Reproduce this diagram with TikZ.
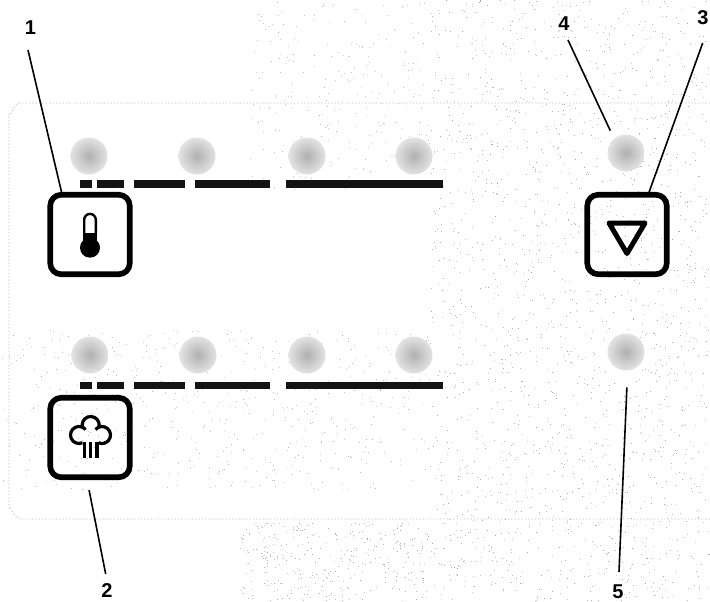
\documentclass[tikz,border=0pt]{standalone}
\usepackage{fontspec}
\setmainfont{Liberation Sans}
\tikzset{
  btn/.style={draw=black,line width=5.6pt,rounded corners=11pt,minimum width=79.5pt,minimum height=79.5pt,inner sep=0pt,outer sep=0pt,fill=none},
  led/.style={circle,minimum size=37pt,inner sep=0pt,outer sep=0pt,shading=radial,inner color=gray!62,outer color=gray!22},
  lab/.style={font=\fontsize{20}{20}\selectfont\bfseries,inner sep=0pt},
  leader/.style={draw=black,line width=1.6pt},
  bar/.style={draw=black!92,line width=7.6pt},
  panel/.style={draw=gray!55,line width=.7pt,dash pattern=on 1.2pt off 2.2pt}
}
\begin{document}
\begin{tikzpicture}[x=1pt,y=-1pt]
\useasboundingbox (0,0) rectangle (710,602);
\fill[white] (0,0) rectangle (710,602);
% scan speckle
\pgfmathsetseed{4711}
\foreach \i in {1,...,1900}{
  \pgfmathsetmacro\xx{430+279*rnd}\pgfmathsetmacro\yy{601*rnd}
  \pgfmathsetmacro\gg{35+35*rnd}
  \fill[gray!\gg] (\xx,\yy) rectangle ++(1,1);
}
\foreach \i in {1,...,350}{
  \pgfmathsetmacro\xx{240+190*rnd}\pgfmathsetmacro\yy{522+79*rnd}
  \pgfmathsetmacro\gg{35+35*rnd}
  \fill[gray!\gg] (\xx,\yy) rectangle ++(1,1);
}
\foreach \i in {1,...,550}{
  \pgfmathsetmacro\xx{430*rnd}\pgfmathsetmacro\yy{330+160*rnd}
  \pgfmathsetmacro\gg{30+30*rnd}
  \fill[gray!\gg] (\xx,\yy) rectangle ++(1,1);
}
\foreach \i in {1,...,250}{
  \pgfmathsetmacro\xx{250+180*rnd}\pgfmathsetmacro\yy{190*rnd}
  \pgfmathsetmacro\gg{30+30*rnd}
  \fill[gray!\gg] (\xx,\yy) rectangle ++(1,1);
}
% panel outline
\draw[panel] (710,103) -- (20,103) to[out=180,in=-90] (9,114) -- (9,508) to[out=90,in=180] (20,519) -- (710,519);
% LEDs
\node[led] (a1) at (89,156) {};
\node[led] (a2) at (197,156) {};
\node[led] (a3) at (307,156) {};
\node[led] (a4) at (414,156) {};
\node[led] (b1) at (90,355) {};
\node[led] (b2) at (198,355) {};
\node[led] (b3) at (307,355) {};
\node[led] (b4) at (414,355) {};
\node[led] (r1) at (626,153) {};
\node[led] (r2) at (626,352) {};
% bars
\draw[bar] (80,184) -- (92,184) (97,184) -- (124,184) (134,184) -- (185,184) (195,184) -- (270,184) (286,184) -- (443,184);
\draw[bar] (80,385.5) -- (92,385.5) (97,385.5) -- (124,385.5) (134,385.5) -- (185,385.5) (195,385.5) -- (270,385.5) (286,385.5) -- (443,385.5);
% buttons
\node[btn] (btnA) at (90,234.5) {};
\node[btn] (btnB) at (90,437.5) {};
\node[btn] (btnC) at (627,234.5) {};
% thermometer
\draw[black,line width=2.4pt] (84.2,233) -- (84.2,219.7) arc[start angle=180,end angle=360,radius=5.8] -- (95.8,233);
\fill[black] (83,232.7) rectangle (97,240);
\fill[black] (90,247.7) circle[radius=10];
% steam cloud
\draw[black,line width=3.2pt]
  (79,435) ++(66:8.5) arc[start angle=66,end angle=320,radius=8.5];
\draw[black,line width=3.2pt]
  (90.7,425) ++(160:8.5) arc[start angle=160,end angle=380,radius=8.5];
\draw[black,line width=3.2pt]
  (102,435) ++(220:8.5) arc[start angle=220,end angle=474,radius=8.5];
\draw[black,line width=3.2pt]
  (84.5,442) -- (84.5,458) (90.7,442) -- (90.7,458) (96.9,442) -- (96.9,458);
% triangle
\draw[black,line width=5pt,line join=round] (609,223) -- (645,223) -- (627,253.5) -- cycle;
% labels
\node[lab] (t1) at (30.5,28) {1};
\node[lab] (t2) at (107,591) {2};
\node[lab] (t3) at (703,18) {3};
\node[lab] (t4) at (564,24) {4};
\node[lab] (t5) at (618,592) {5};
% free ends
\coordinate (e1) at (28,50);
\coordinate (e2) at (105.7,574);
\coordinate (e3) at (702.7,43);
\coordinate (e4) at (568,40);
\coordinate (e5) at (619,572);
% leaders
\draw[leader] (e1) -- (btnA.125);
\draw[leader,shorten >=13pt] (e2) -- (btnB.265);
\draw[leader] (e3) -- (btnC.62.4);
\draw[leader,shorten >=9pt] (e4) -- (r1.130);
\draw[leader,shorten >=17pt] (e5) -- (r2.275);
\end{tikzpicture}
\end{document}
